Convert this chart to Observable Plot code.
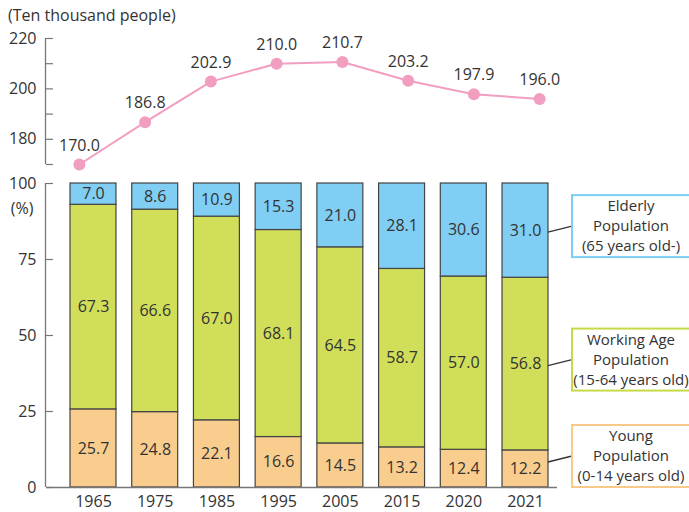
<!DOCTYPE html>
<html><head><meta charset="utf-8">
<script src="https://cdn.jsdelivr.net/npm/d3@7"></script>
<script src="https://cdn.jsdelivr.net/npm/@observablehq/plot@0.6"></script>
<style>
body{margin:0;background:#fff;font-family:"Open Sans",sans-serif;color:#333}
#wrap{width:689px;height:512px;position:relative;overflow:hidden;background:#fff}
#title{height:26px;box-sizing:border-box;padding:5px 0 0 8px;font-size:16px;line-height:20px;white-space:nowrap}
svg{display:block}
</style></head><body><div id="wrap"><div id="title">(Ten thousand people)</div></div>
<script>
const years = ["1965","1975","1985","1995","2005","2015","2020","2021"];
const young = [25.7,24.8,22.1,16.6,14.5,13.2,12.4,12.2];
const working = [67.3,66.6,67.0,68.1,64.5,58.7,57.0,56.8];
const elderly = [7.0,8.6,10.9,15.3,21.0,28.1,30.6,31.0];
const totals = [170.0,186.8,202.9,210.0,210.7,203.2,197.9,196.0];
const groups = ["Young","Working","Elderly"];
const groupColors = ["#f9cd8e","#d0de5a","#80cef3"];
const legendBorders = ["#f9c98a","#c6da48","#7ccdf3"];
const legendLabels = [["Young","Population","(0-14 years old)"],["Working Age","Population","(15-64 years old)"],["Elderly","Population","(65 years old-)"]];
const pctTicks = [0,25,50,75,100];
const popTicks = [170,180,190,200,210,220];
const popLabelTicks = [180,200,220];
const pink = "#f29ec1";
const axisGray = "#777";
const textColor = "#333";

const stackRows = [];
years.forEach((yr, i) => {
  let base = 0;
  [young[i], working[i], elderly[i]].forEach((v, gi) => {
    stackRows.push({year: yr, group: groups[gi], value: v, y1: base, y2: base + v, mid: base + v / 2});
    base += v;
  });
});
const totalRows = years.map((yr, i) => ({year: yr, total: totals[i]}));

const xOpts = {domain: years, paddingInner: 0.255, paddingOuter: 0.389, round: false, axis: null};
const style = {fontFamily: "'Open Sans', sans-serif", fontSize: "16px", color: textColor, background: "white", overflow: "visible"};

function yAxisLine(lo, hi) {
  return (index, scales, values, dims) => {
    const y = scales.y;
    return d3.create("svg:line")
      .attr("x1", dims.marginLeft - 0.5).attr("x2", dims.marginLeft - 0.5)
      .attr("y1", y(hi)).attr("y2", y(lo))
      .attr("stroke", axisGray).attr("stroke-width", 1.3).node();
  };
}

const legend = (index, scales, values, dims) => {
  const x = scales.x, y = scales.y;
  const bw = typeof x.bandwidth === "function" ? x.bandwidth() : x.bandwidth;
  const last = years[years.length - 1];
  const barRight = x(last) + bw;
  const boxLeft = barRight + 24, boxW = 124, boxH = 62;
  const g = d3.create("svg:g");
  groups.forEach((grp, gi) => {
    const r = stackRows.find(d => d.year === last && d.group === grp);
    const cy = Math.min(y(r.mid) - 4, y(0) - boxH / 2);
    g.append("line").attr("x1", barRight).attr("y1", cy + 6).attr("x2", boxLeft).attr("y2", cy)
      .attr("stroke", "#333").attr("stroke-width", 1.3);
    g.append("rect").attr("x", boxLeft).attr("y", cy - boxH / 2).attr("width", boxW).attr("height", boxH)
      .attr("fill", "white").attr("stroke", legendBorders[gi]).attr("stroke-width", 2);
    const t = g.append("text").attr("text-anchor", "middle").attr("font-size", 15).attr("fill", textColor);
    legendLabels[gi].forEach((line, li) => {
      t.append("tspan").attr("x", boxLeft + 59).attr("y", cy + (li - 1) * 20).attr("dy", "0.35em").text(line);
    });
  });
  return g.node();
};

const topChart = Plot.plot({
  width: 689, height: 149, marginLeft: 46, marginRight: 117, marginTop: 12, marginBottom: 11,
  style,
  x: {...xOpts},
  y: {domain: [170, 220], axis: null},
  marks: [
    yAxisLine(170, 220),
    Plot.axisY(popTicks, {tickSize: 7, dx: 7, fill: "none", stroke: axisGray, strokeWidth: 1.2, label: null}),
    Plot.axisY(popLabelTicks, {tickSize: 0, tickPadding: 10, fill: textColor, label: null}),
    Plot.line(totalRows, {x: "year", y: "total", stroke: pink, strokeWidth: 2}),
    Plot.dot(totalRows, {x: "year", y: "total", r: 6, fill: pink}),
    Plot.text(totalRows, {x: "year", y: "total", text: d => d.total.toFixed(1), dy: -19, fill: textColor})
  ]
});

const bottomChart = Plot.plot({
  width: 689, height: 337, marginLeft: 46, marginRight: 117, marginTop: 8, marginBottom: 25,
  style,
  x: {...xOpts},
  y: {domain: [0, 100], axis: null},
  color: {domain: groups, range: groupColors},
  marks: [
    Plot.barY(stackRows, {x: "year", y1: "y1", y2: "y2", fill: "group", stroke: "#444", strokeWidth: 1.2}),
    Plot.text(stackRows, {x: "year", y: "mid", text: d => d.value.toFixed(1), fill: textColor}),
    Plot.ruleY([0], {stroke: axisGray, strokeWidth: 1.5, insetRight: 15}),
    yAxisLine(0, 100),
    Plot.axisY(pctTicks, {tickSize: 7, dx: 7, fill: "none", stroke: axisGray, strokeWidth: 1.2, label: null}),
    Plot.axisY(pctTicks, {tickSize: 0, tickPadding: 10, fill: textColor, label: null}),
    Plot.text(["(%)"], {text: d => d, frameAnchor: "top-left", dx: -13, dy: 19, textAnchor: "end", fill: textColor}),
    Plot.axisX({tickSize: 0, tickPadding: 8, fill: textColor, label: null}),
    legend
  ]
});

const wrap = document.getElementById("wrap");
wrap.appendChild(topChart);
wrap.appendChild(bottomChart);
</script>
</body></html>
